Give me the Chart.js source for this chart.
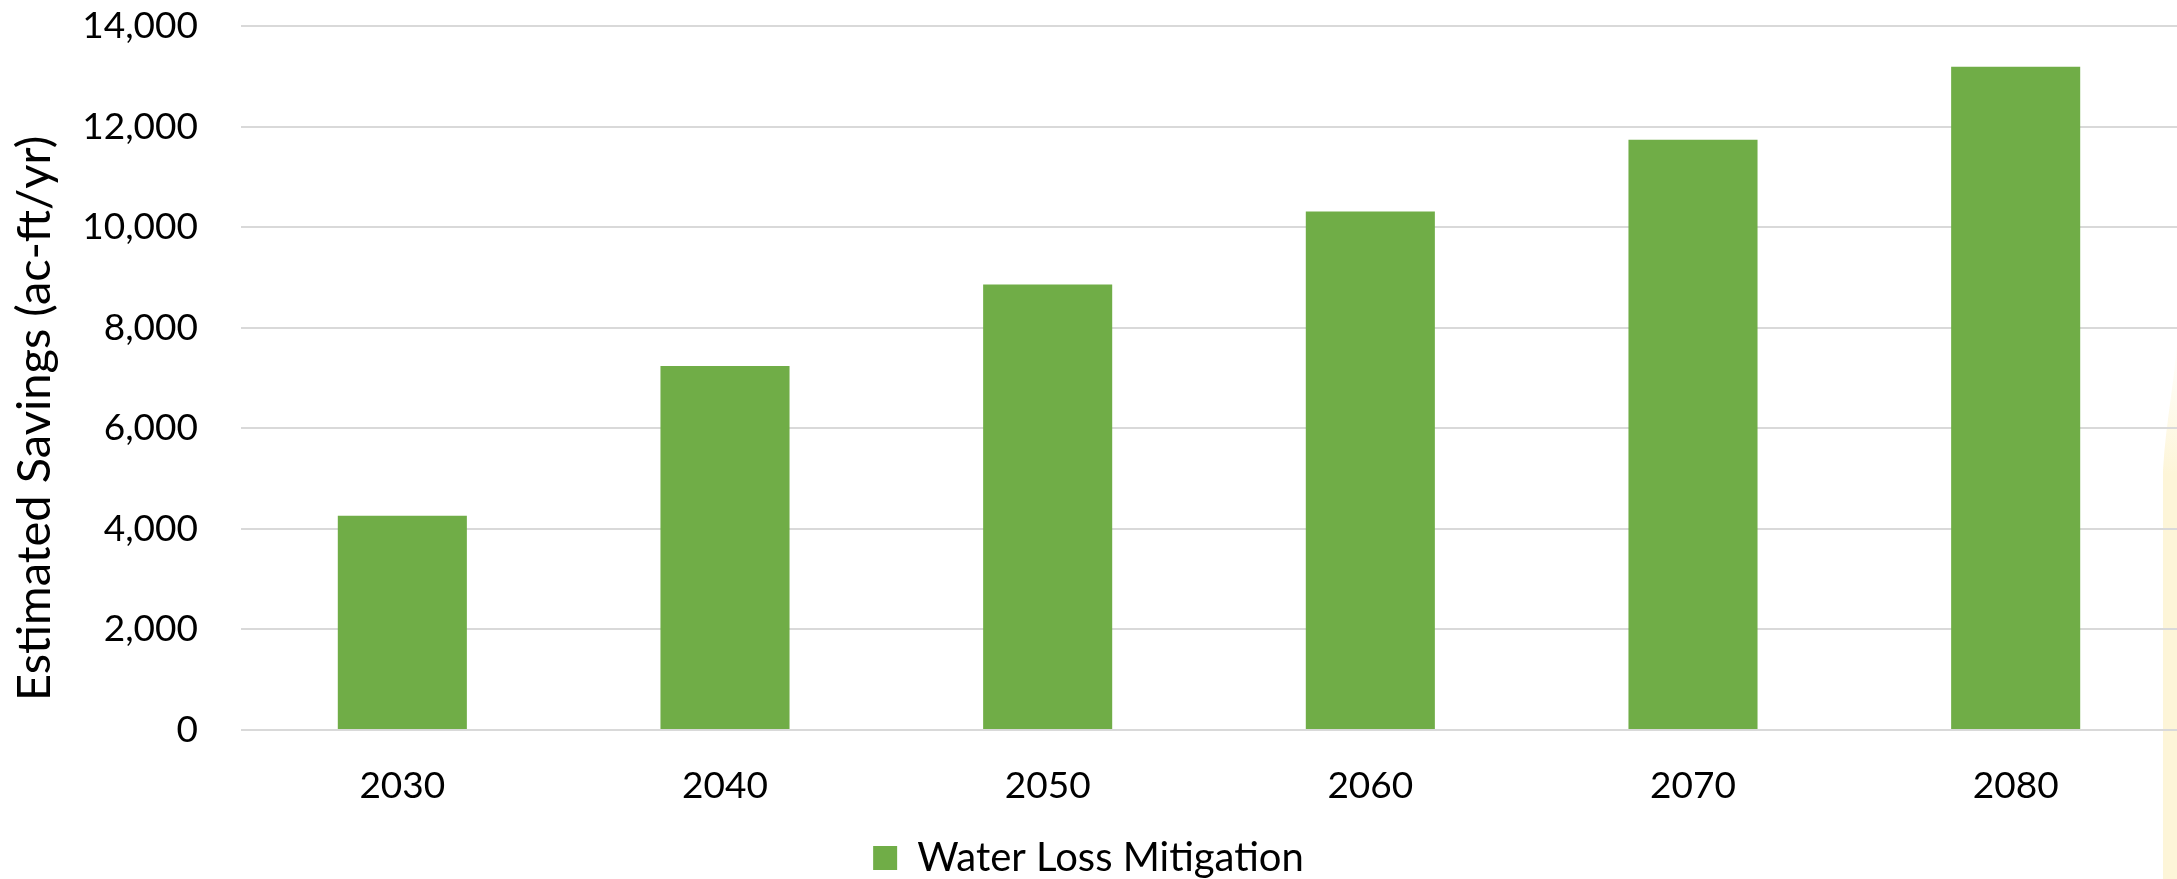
<!DOCTYPE html>
<html><head><meta charset="utf-8">
<script src="https://cdn.jsdelivr.net/npm/chart.js@4"></script>
<style>
html,body{margin:0;padding:0;background:#fff;overflow:hidden}
#wrap{position:relative;width:2177px;height:879px}
#deco{position:absolute;left:0;top:0}
#c{position:absolute;left:0;top:0;width:2177px;height:879px}
</style></head><body>
<div id="wrap">
<svg id="deco" width="2177" height="879"><defs><linearGradient id="g" x1="0" y1="0" x2="0" y2="1"><stop offset="0" stop-color="#FDF5D8" stop-opacity="0"/><stop offset="0.25" stop-color="#FDF5D8" stop-opacity="1"/></linearGradient></defs><path d="M2177,340 C2175,380 2166,420 2163,470 L2163,879 L2177,879 Z" fill="url(#g)"/></svg>
<canvas id="c" width="2177" height="879"></canvas>
</div>
<script>
const categories = ['2030', '2040', '2050', '2060', '2070', '2080'];
const savings = [4260, 7240, 8860, 10310, 11740, 13190];
const seriesName = 'Water Loss Mitigation';
const yTitle = 'Estimated Savings (ac-ft/yr)';
const yMin = 0, yMax = 14000, yStep = 2000;

const FONT = 'Lato';
Chart.defaults.font.family = FONT;
Chart.defaults.font.size = 37;
Chart.defaults.color = '#000';

const yTitlePlugin = {
  id: 'yTitlePlugin',
  afterDraw(chart) {
    const ctx = chart.ctx, a = chart.chartArea;
    ctx.save();
    ctx.translate(35, a.bottom - 29);
    ctx.rotate(-Math.PI / 2);
    ctx.font = '47px ' + FONT;
    ctx.fillStyle = '#000';
    ctx.textAlign = 'left';
    ctx.textBaseline = 'middle';
    ctx.fillText(yTitle, 0, 0);
    ctx.restore();
  }
};

new Chart(document.getElementById('c'), {
  type: 'bar',
  data: {
    labels: categories,
    datasets: [{
      label: seriesName,
      data: savings,
      backgroundColor: '#70AD47',
      borderWidth: 0,
      barPercentage: 0.4,
      categoryPercentage: 1.0
    }]
  },
  options: {
    responsive: false,
    devicePixelRatio: 1,
    animation: false,
    layout: { padding: { top: 26, right: 0, left: 0, bottom: -9 } },
    plugins: {
      legend: {
        position: 'bottom',
        labels: { boxWidth: 24, boxHeight: 24, padding: 0, font: { size: 40 }, color: '#000' }
      },
      tooltip: { enabled: false }
    },
    scales: {
      x: {
        grid: { display: false },
        border: { display: false },
        ticks: { padding: 26, font: { size: 37 }, color: '#000' },
        afterFit(s) { s.height = 108; }
      },
      y: {
        min: yMin, max: yMax,
        grid: { color: '#D9D9D9', lineWidth: 2, drawTicks: true, tickLength: 43, tickColor: 'rgba(0,0,0,0)' },
        border: { display: false },
        ticks: {
          stepSize: yStep, padding: 0, font: { size: 37 }, color: '#000',
          callback: v => v.toLocaleString('en-US')
        },
        afterFit(s) { s.width = 241; }
      }
    }
  },
  plugins: [yTitlePlugin]
});
</script>
</body></html>
